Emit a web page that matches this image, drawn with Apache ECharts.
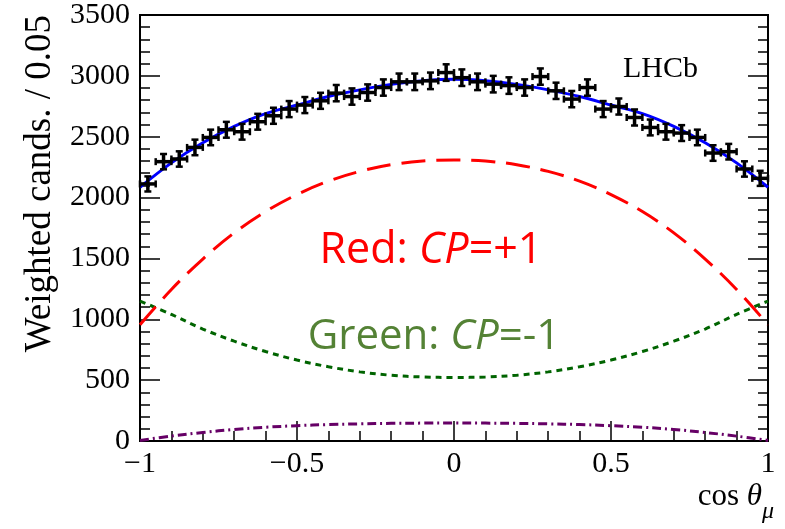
<!DOCTYPE html>
<html>
<head>
<meta charset="utf-8">
<title>cos theta_mu projection</title>
<script src="https://cdn.jsdelivr.net/npm/echarts@6/dist/echarts.min.js"></script>
<style>
  html, body { margin: 0; padding: 0; background: #fff; }
  #chart { width: 785px; height: 529px; }
</style>
</head>
<body>
<div id="chart"></div>
<script>
// Weighted candidates per bin of cos(theta_mu), bin width 0.05
const binCenters = [
  -0.975, -0.925, -0.875, -0.825, -0.775, -0.725, -0.675, -0.625, -0.575, -0.525,
  -0.475, -0.425, -0.375, -0.325, -0.275, -0.225, -0.175, -0.125, -0.075, -0.025,
   0.025,  0.075,  0.125,  0.175,  0.225,  0.275,  0.325,  0.375,  0.425,  0.475,
   0.525,  0.575,  0.625,  0.675,  0.725,  0.775,  0.825,  0.875,  0.925,  0.975
];
const binCounts = [
  2112, 2295, 2317, 2412, 2494, 2557, 2541, 2623, 2672, 2727,
  2760, 2795, 2858, 2830, 2863, 2904, 2951, 2951, 2959, 3027,
  2985, 2951, 2932, 2920, 2904, 2994, 2877, 2809, 2904, 2727,
  2748, 2658, 2576, 2541, 2530, 2494, 2366, 2377, 2235, 2158
];
const binErrors = [
  62, 63, 63, 64, 64, 65, 65, 65, 66, 66,
  66, 66, 67, 67, 67, 67, 68, 68, 68, 68,
  68, 68, 68, 68, 67, 67, 67, 67, 67, 66,
  66, 66, 65, 65, 65, 64, 64, 64, 63, 62
];
const binWidth = 0.05;

// Fit projections sampled along cos(theta_mu)
const curveX = [
  -1.0, -0.9, -0.8, -0.7, -0.6, -0.5, -0.4, -0.3, -0.2, -0.1,
   0.0,  0.1,  0.2,  0.3,  0.4,  0.5,  0.6,  0.7,  0.8,  0.9, 1.0
];
const totalFit = [
  2085, 2285, 2450, 2585, 2690, 2760, 2830, 2885, 2930, 2960,
  2972, 2960, 2930, 2885, 2830, 2760, 2690, 2585, 2450, 2285, 2085
];
const cpEven = [
   955, 1245, 1495, 1710, 1885, 2025, 2135, 2215, 2270, 2300,
  2308, 2300, 2270, 2215, 2135, 2025, 1885, 1710, 1495, 1245, 955
];
const cpOdd = [
  1150, 1040,  920,  820,  735,  665,  610,  568,  540,  526,
   522,  526,  540,  568,  610,  665,  735,  820,  920, 1040, 1150
];
const sWave = [
     5,   40,   70,   95,  113,  126,  135,  141,  145,  147,
   148,  147,  145,  141,  135,  126,  113,   95,   70,   40,    5
];

const xTickLabels = { '-1': '\u22121', '-0.5': '\u22120.5', '0': '0', '0.5': '0.5', '1': '1' };
const yTickLabels = ['0', '500', '1000', '1500', '2000', '2500', '3000', '3500'];

const serif = '"Liberation Serif", "DejaVu Serif", serif';
const sans = '"Open Sans", "Noto Sans", sans-serif';

function pairs(xs, ys) { return xs.map((x, i) => [x, ys[i]]); }

const chart = echarts.init(document.getElementById('chart'), null, { renderer: 'canvas' });

const tickCommon = {
  axisTick: { show: true, inside: true, length: 20, lineStyle: { color: '#000', width: 1.5 } },
  minorTick: { show: true, splitNumber: 5, length: 10, lineStyle: { color: '#000', width: 1.5 } },
  splitLine: { show: false },
  minorSplitLine: { show: false },
  axisLine: { show: true, onZero: false, lineStyle: { color: '#000', width: 2 } }
};

function curve(name, values, color, type, width) {
  return {
    name, type: 'line', data: pairs(curveX, values), smooth: 0.35,
    showSymbol: false, symbol: 'none', z: 2,
    lineStyle: { color, width, type, cap: 'butt' }
  };
}

chart.setOption({
  animation: false,
  backgroundColor: '#fff',
  grid: { left: 140, top: 14, right: 17, bottom: 88, show: true, borderColor: '#000', borderWidth: 2 },
  xAxis: Object.assign({
    type: 'value', min: -1, max: 1, interval: 0.5,
    axisLabel: {
      color: '#000', fontFamily: serif, fontSize: 30, margin: 8,
      formatter: v => xTickLabels[String(v)] ?? String(v)
    }
  }, tickCommon),
  yAxis: [
    Object.assign({
      type: 'value', min: 0, max: 3500, interval: 500,
      axisLabel: {
        color: '#000', fontFamily: serif, fontSize: 30, margin: 10,
        formatter: (v) => yTickLabels[Math.round(v / 500)]
      }
    }, tickCommon),
    Object.assign({
      type: 'value', min: 0, max: 3500, interval: 500, position: 'right',
      axisLabel: { show: false }
    }, tickCommon)
  ],
  series: [
    curve('S-wave', sWave, '#660066', [9, 4, 2, 4], 3),
    curve('CP-odd', cpOdd, '#006400', [6, 5], 3),
    curve('CP-even', cpEven, '#ff0000', [24, 11], 3),
    curve('Total', totalFit, '#0000ff', 'solid', 3),
    {
      name: 'Data', type: 'custom', z: 5,
      data: binCenters.map((x, i) => [x, binCounts[i], binErrors[i]]),
      renderItem: (params, api) => {
        const x = api.value(0), y = api.value(1), e = api.value(2);
        const l = api.coord([x - binWidth / 2, y]);
        const r = api.coord([x + binWidth / 2, y]);
        const t = api.coord([x, y + e]);
        const b = api.coord([x, y - e]);
        const s = { stroke: '#000', lineWidth: 3.5 };
        const c = { stroke: '#000', lineWidth: 2.5 };
        const cap = 3.5;
        return {
          type: 'group',
          children: [
            { type: 'line', shape: { x1: l[0], y1: l[1], x2: r[0], y2: r[1] }, style: s },
            { type: 'line', shape: { x1: t[0], y1: t[1], x2: b[0], y2: b[1] }, style: s },
            { type: 'line', shape: { x1: l[0], y1: l[1] - cap, x2: l[0], y2: l[1] + cap }, style: c },
            { type: 'line', shape: { x1: r[0], y1: r[1] - cap, x2: r[0], y2: r[1] + cap }, style: c },
            { type: 'line', shape: { x1: t[0] - cap, y1: t[1], x2: t[0] + cap, y2: t[1] }, style: c },
            { type: 'line', shape: { x1: b[0] - cap, y1: b[1], x2: b[0] + cap, y2: b[1] }, style: c }
          ]
        };
      }
    }
  ],
  graphic: [
    {
      type: 'text', x: 40, y: 15, rotation: Math.PI / 2,
      style: {
        text: 'Weighted cands. / 0.05', font: '37px ' + serif, fill: '#000',
        textAlign: 'right', textVerticalAlign: 'middle'
      }
    },
    {
      type: 'text', x: 623, y: 69,
      style: { text: 'LHCb', font: '30px ' + serif, fill: '#000', textAlign: 'left', textVerticalAlign: 'middle' }
    },
    {
      type: 'text', x: 762, y: 497,
      style: {
        text: '{a|cos }{b|\u03B8}', textAlign: 'right', textVerticalAlign: 'middle',
        rich: {
          a: { fontFamily: serif, fontSize: 31, fill: '#000', color: '#000' },
          b: { fontFamily: serif, fontSize: 31, fontStyle: 'italic', fill: '#000', color: '#000' }
        }
      }
    },
    {
      type: 'text', x: 762, y: 512,
      style: { text: '\u03BC', font: 'italic 24px ' + serif, fill: '#000', textAlign: 'left', textVerticalAlign: 'middle' }
    },
    {
      type: 'text', x: 431, y: 251,
      style: {
        text: '{a|Red: }{b|CP}{a|=+1}', textAlign: 'center', textVerticalAlign: 'middle',
        rich: {
          a: { fontFamily: sans, fontSize: 43, fill: '#ff0000', color: '#ff0000' },
          b: { fontFamily: sans, fontSize: 43, fontStyle: 'italic', fill: '#ff0000', color: '#ff0000' }
        }
      }
    },
    {
      type: 'text', x: 434, y: 337,
      style: {
        text: '{a|Green: }{b|CP}{a|=-1}', textAlign: 'center', textVerticalAlign: 'middle',
        rich: {
          a: { fontFamily: sans, fontSize: 42, fill: '#548235', color: '#548235' },
          b: { fontFamily: sans, fontSize: 42, fontStyle: 'italic', fill: '#548235', color: '#548235' }
        }
      }
    }
  ]
});
</script>
</body>
</html>
